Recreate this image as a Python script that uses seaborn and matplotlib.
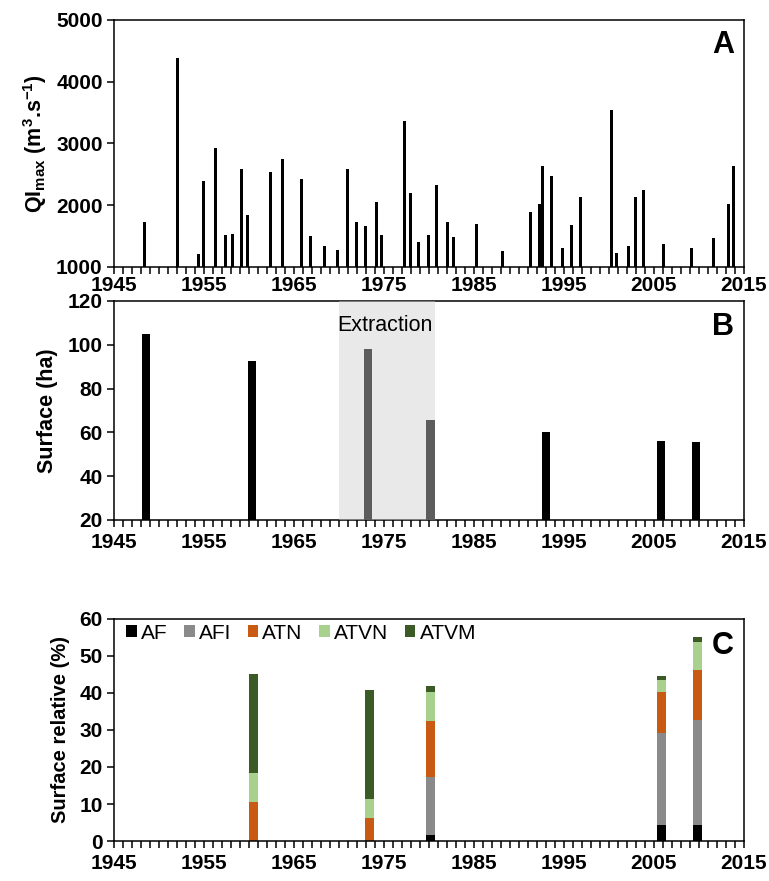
import numpy as np
import matplotlib
matplotlib.use('Agg')
import matplotlib.pyplot as plt
from matplotlib.ticker import MultipleLocator
from matplotlib.patches import Patch
import seaborn as sns

# panel A: annual peak discharge
qi_years = [1948.4, 1952.1, 1954.4, 1955.0, 1956.3, 1957.4, 1958.2, 1959.2, 1959.9,
            1962.4, 1963.7, 1965.9, 1966.9, 1968.4, 1969.9, 1971.0, 1972.0, 1973.0,
            1974.2, 1974.8, 1977.3, 1978.0, 1978.9, 1980.0, 1980.9, 1982.1, 1982.8,
            1985.3, 1988.2, 1991.3, 1992.3, 1992.7, 1993.6, 1994.9, 1995.9, 1996.9,
            2000.3, 2000.9, 2002.2, 2003.0, 2003.9, 2006.1, 2009.2, 2011.7, 2013.3,
            2013.9]
qi_values = [1720, 4380, 1210, 2390, 2930, 1510, 1530, 2580, 1840,
             2530, 2740, 2420, 1500, 1345, 1275, 2580, 1720, 1665,
             2050, 1510, 3370, 2190, 1410, 1510, 2320, 1735, 1485,
             1690, 1255, 1890, 2020, 2635, 2475, 1300, 1675, 2140,
             3540, 1230, 1340, 2140, 2245, 1375, 1310, 1465, 2020,
             2640]

# panel B: active surface
surf_years = [1948.6, 1960.4, 1973.3, 1980.2, 1993.0, 2005.8, 2009.7]
surf_values = [105, 92.6, 98.2, 65.5, 60, 56.2, 55.6]
extraction = (1970.0, 1980.7)

# panel C: relative surface per class
rel_years = [1960.5, 1973.4, 1980.2, 2005.9, 2009.85]
classes = ['AF', 'AFI', 'ATN', 'ATVN', 'ATVM']
af = [0, 0, 1.5, 4.3, 4.3]
afi = [0, 0, 15.8, 24.8, 28.4]
atn = [10.6, 6.1, 15.0, 11.3, 13.6]
atvn = [7.7, 5.2, 8.1, 3.1, 7.6]
atvm = [26.9, 29.5, 1.6, 1.1, 1.1]
class_colors = ['#000000', '#8a8a8a', '#c85a14', '#a9d18e', '#3b5a26']

year_ticks = list(range(1945, 2016, 10))

sns.set_theme(style='ticks')
plt.rcParams['font.family'] = ['Liberation Sans', 'DejaVu Sans']
plt.rcParams['mathtext.fontset'] = 'custom'
plt.rcParams['mathtext.rm'] = 'Liberation Sans:bold'
plt.rcParams['mathtext.default'] = 'rm'
for key in ['text.color', 'axes.labelcolor', 'xtick.color', 'ytick.color']:
    plt.rcParams[key] = 'black'

fig = plt.figure(figsize=(7.69, 8.81), dpi=100)
ax_a = fig.add_axes([0.148, 0.697, 0.819, 0.2804])
ax_b = fig.add_axes([0.148, 0.4098, 0.819, 0.2486])
ax_c = fig.add_axes([0.148, 0.0454, 0.819, 0.252])


def style_axis(ax, xpad=4.5):
    ax.set_xlim(1945, 2015)
    ax.set_xticks(year_ticks)
    ax.xaxis.set_minor_locator(MultipleLocator(1))
    ax.tick_params(which='both', direction='out', width=1.1, color='black')
    ax.tick_params(which='major', length=5, labelsize=15)
    ax.tick_params(axis='x', which='major', pad=xpad)
    ax.tick_params(axis='y', which='major', pad=3)
    ax.tick_params(which='minor', length=5)
    for lab in ax.get_xticklabels() + ax.get_yticklabels():
        lab.set_fontweight('bold')
    for sp in ax.spines.values():
        sp.set_visible(True)
        sp.set_color('black')
        sp.set_linewidth(1.1)
    ax.set_xlabel('')


# A
w_a = 0.33 / np.min(np.diff(np.sort(qi_years)))
sns.barplot(x=qi_years, y=qi_values, native_scale=True, color='black',
            width=w_a, linewidth=0, errorbar=None, ax=ax_a, saturation=1)
ax_a.set_ylim(1000, 5000)
ax_a.set_yticks(range(1000, 5001, 1000))
style_axis(ax_a, xpad=1.5)
ax_a.set_ylabel(r'QI$_{max}$ (m$^{3}$.s$^{-1}$)', fontsize=15.5, fontweight='bold', labelpad=5)
ax_a.text(0.985, 0.9, 'A', transform=ax_a.transAxes, ha='right', va='center',
          fontsize=22, fontweight='bold')

# B
w_b = 0.9 / np.min(np.diff(np.sort(surf_years)))
sns.barplot(x=surf_years, y=surf_values, native_scale=True, color='black',
            width=w_b, linewidth=0, errorbar=None, ax=ax_b, saturation=1)
ax_b.axvspan(extraction[0], extraction[1], color='#d0d0d0', alpha=0.45, zorder=5, lw=0)
ax_b.text(sum(extraction) / 2 - 0.2, 109, 'Extraction', ha='center', va='center',
          fontsize=15.5, zorder=6)
ax_b.set_ylim(20, 120)
ax_b.set_yticks(range(20, 121, 20))
style_axis(ax_b)
ax_b.set_ylabel('Surface (ha)', fontsize=15.5, fontweight='bold', labelpad=7)
ax_b.text(0.985, 0.88, 'B', transform=ax_b.transAxes, ha='right', va='center',
          fontsize=22, fontweight='bold')

# C
bottom = np.zeros(len(rel_years))
for name, vals, col in zip(classes, [af, afi, atn, atvn, atvm], class_colors):
    ax_c.bar(rel_years, vals, bottom=bottom, width=0.95, color=col, linewidth=0, label=name)
    bottom += np.array(vals)
ax_c.set_ylim(0, 60)
ax_c.set_yticks(range(0, 61, 10))
style_axis(ax_c)
ax_c.set_ylabel('Surface relative (%)', fontsize=14.5, fontweight='bold', labelpad=7)
handles = [Patch(facecolor=c, edgecolor='none') for c in class_colors]
ax_c.legend(handles, classes, loc='upper left', bbox_to_anchor=(0.0, 1.035), ncol=5,
            frameon=False, fontsize=15, handlelength=0.5, handleheight=0.5,
            handletextpad=0.2, columnspacing=0.8, borderaxespad=0.2)
ax_c.text(0.985, 0.88, 'C', transform=ax_c.transAxes, ha='right', va='center',
          fontsize=22, fontweight='bold')

fig.savefig('out.png', dpi=100)
